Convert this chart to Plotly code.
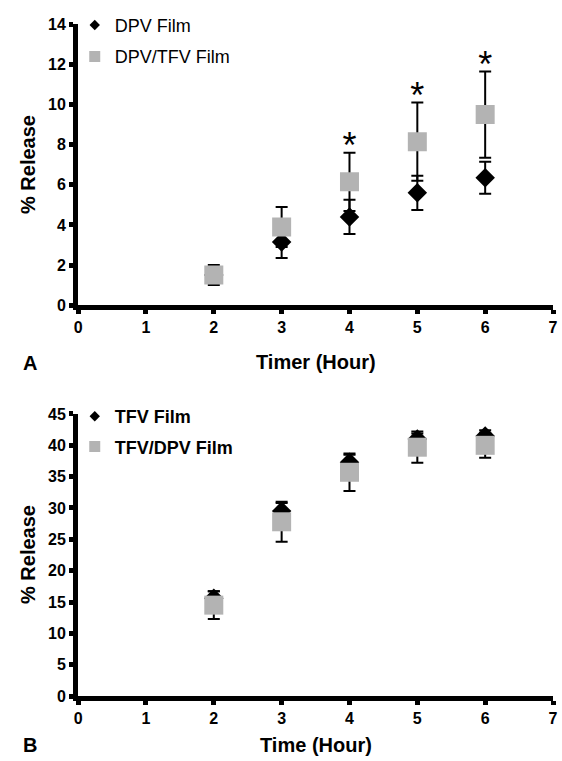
import plotly.graph_objects as go

# ---- data ----
hours = [2, 3, 4, 5, 6]

dpv_film = [1.5, 3.15, 4.4, 5.6, 6.35]
dpv_film_err = [0.4, 0.8, 0.85, 0.85, 0.8]
dpv_tfv_film = [1.5, 3.9, 6.15, 8.15, 9.5]
dpv_tfv_film_err = [0.5, 1.0, 1.45, 1.95, 2.15]

sig_hours = [4, 5, 6]
sig_label_y = [7.8, 10.3, 11.8]

tfv_film = [15.6, 29.5, 37.3, 41.0, 41.5]
tfv_film_err = [1.1, 1.3, 1.2, 0.9, 0.9]
tfv_dpv_film = [14.5, 27.8, 35.7, 39.7, 40.0]
tfv_dpv_film_err = [2.2, 3.2, 3.0, 2.5, 2.0]

x_ticks = [0, 1, 2, 3, 4, 5, 6, 7]
yA_ticks = [0, 2, 4, 6, 8, 10, 12, 14]
yB_ticks = [0, 5, 10, 15, 20, 25, 30, 35, 40, 45]

GRAY = "#b3b3b3"
FONT = "Liberation Sans, Arial, sans-serif"

fig = go.Figure()

err_style = dict(type="data", color="black", thickness=2, width=6)


def legend_entry(name, symbol, size, color, legend, group):
    # legend-only entry (no data drawn) so the legend symbol can be small
    return go.Scatter(x=[None], y=[None], mode="markers", name=name,
                      marker=dict(symbol=symbol, size=size, color=color),
                      legend=legend, legendgroup=group, showlegend=True,
                      hoverinfo="skip")


# Panel A
fig.add_trace(go.Scatter(
    x=hours, y=dpv_film, mode="markers", name="DPV Film",
    marker=dict(symbol="diamond", size=15, color="black"),
    error_y=dict(array=dpv_film_err, **err_style),
    xaxis="x", yaxis="y", showlegend=False))
fig.add_trace(go.Scatter(
    x=hours, y=dpv_tfv_film, mode="markers", name="DPV/TFV Film",
    marker=dict(symbol="square", size=19, color=GRAY),
    error_y=dict(array=dpv_tfv_film_err, **err_style),
    xaxis="x", yaxis="y", showlegend=False))
fig.add_trace(go.Scatter(
    x=sig_hours, y=sig_label_y, mode="text", text=["*"] * len(sig_hours),
    textposition="middle center", textfont=dict(size=36, color="black", family=FONT),
    showlegend=False, hoverinfo="skip", xaxis="x", yaxis="y", cliponaxis=False))

# Panel B
fig.add_trace(go.Scatter(
    x=hours, y=tfv_film, mode="markers", name="TFV Film",
    marker=dict(symbol="diamond", size=15, color="black"),
    error_y=dict(array=tfv_film_err, **err_style),
    xaxis="x2", yaxis="y2", showlegend=False))
fig.add_trace(go.Scatter(
    x=hours, y=tfv_dpv_film, mode="markers", name="TFV/DPV Film",
    marker=dict(symbol="square", size=19, color=GRAY),
    error_y=dict(array=tfv_dpv_film_err, **err_style),
    xaxis="x2", yaxis="y2", showlegend=False))

fig.add_trace(legend_entry("DPV Film", "diamond", 8, "black", "legend", "a1"))
fig.add_trace(legend_entry("DPV/TFV Film", "square", 11, GRAY, "legend", "a2"))
fig.add_trace(legend_entry("TFV Film", "diamond", 8, "black", "legend2", "b1"))
fig.add_trace(legend_entry("TFV/DPV Film", "square", 11, GRAY, "legend2", "b2"))

axis_common = dict(
    showline=True, linecolor="black", linewidth=5, mirror=False,
    ticks="outside", ticklen=4, tickwidth=5, tickcolor="black",
    showgrid=False, zeroline=False, automargin=False,
    tickfont=dict(family=FONT, size=16, color="black", weight="bold"),
)

XD = [0.139, 0.984]
fig.update_layout(
    width=562, height=761,
    margin=dict(l=0, r=0, t=0, b=0, autoexpand=False),
    paper_bgcolor="white", plot_bgcolor="white",
    font=dict(family=FONT, color="black"),
    xaxis=dict(domain=XD, range=[0, 7], tickvals=x_ticks, anchor="y", **axis_common),
    yaxis=dict(domain=[0.599, 0.968], range=[0, 14], tickvals=yA_ticks, anchor="x", **axis_common),
    xaxis2=dict(domain=XD, range=[0, 7], tickvals=x_ticks, anchor="y2", **axis_common),
    yaxis2=dict(domain=[0.0854, 0.456], range=[0, 45], tickvals=yB_ticks, anchor="x2", **axis_common),
    legend=dict(x=0.133, y=0.991, xanchor="left", yanchor="top",
                font=dict(size=18, family=FONT, color="black"),
                bgcolor="rgba(0,0,0,0)", tracegroupgap=5, itemsizing="trace"),
    legend2=dict(x=0.133, y=0.477, xanchor="left", yanchor="top",
                 font=dict(size=18, family=FONT, color="black", weight="bold"),
                 bgcolor="rgba(0,0,0,0)", tracegroupgap=4, itemsizing="trace"),
    showlegend=True,
)

ann = [
    dict(text="<b>Timer (Hour)</b>", x=316, y=362, size=20, angle=0),
    dict(text="<b>Time (Hour)</b>", x=316, y=745, size=20, angle=0),
    dict(text="<b>% Release</b>", x=28, y=165, size=20, angle=-90),
    dict(text="<b>% Release</b>", x=28, y=555, size=20, angle=-90),
    dict(text="<b>A</b>", x=30, y=363, size=20, angle=0),
    dict(text="<b>B</b>", x=30, y=745, size=20, angle=0),
]
for a in ann:
    fig.add_annotation(text=a["text"], x=a["x"] / 562, y=1 - a["y"] / 761,
                       xref="paper", yref="paper", showarrow=False,
                       xanchor="center", yanchor="middle", textangle=a["angle"],
                       font=dict(size=a["size"], family=FONT, color="black"))

fig.write_html(
    "out.html",
    config={"displayModeBar": False},
    post_script="document.body.style.margin='0';document.body.style.overflow='hidden';",
)
